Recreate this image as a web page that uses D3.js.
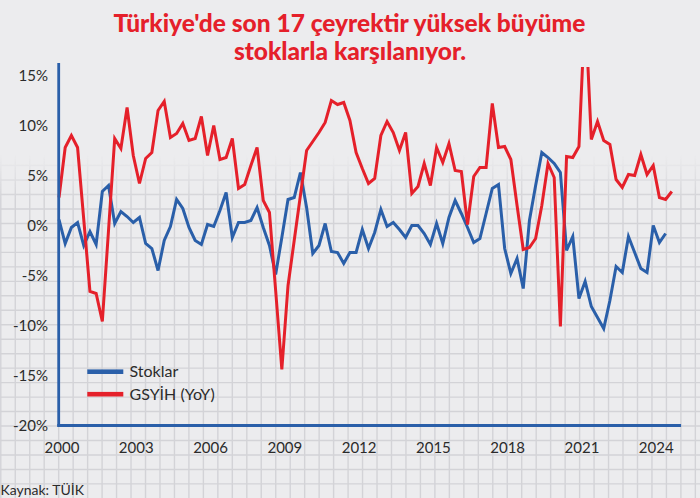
<!DOCTYPE html>
<html><head><meta charset="utf-8">
<script src="https://cdn.jsdelivr.net/npm/d3@7"></script>
<style>html,body{margin:0;padding:0;background:#ececee;}svg{display:block}</style>
</head><body>
<svg id="c" width="700" height="498"></svg>
<script>
// ---- data (quarterly, 2000Q1 onwards) ----
const startYear = 2000;
const gdpYoY = [2.8,7.8,9.0,7.8, 0.6,-6.6,-6.8,-9.6, -0.5,8.7,7.7,11.8, 7.0,4.2,6.7,7.3,
  11.5,12.4,8.8,9.2, 10.2,8.5,8.7,10.9, 7.0,10.0,6.6,6.8, 8.7,3.7,4.1,6.0,
  7.8,2.5,1.3,-6.5, -14.4,-6.0,-1.5,3.0, 7.5,8.4,9.3,10.3, 12.5,12.1,12.3,10.5,
  7.3,5.7,4.2,4.7, 9.0,10.4,9.3,7.5, 9.3,3.2,3.9,6.2, 4.0,7.8,6.3,8.2,
  5.5,5.4,0.1,4.9, 5.8,5.8,12.2,7.8, 7.9,6.6,2.0,-2.4, -2.2,-1.3,2.0,6.2,
  4.8,-10.1,6.9,6.8, 7.9,21.9,8.6,10.4, 8.5,8.1,4.6,3.8, 5.1,5.0,7.1,5.1,
  6.0,2.8,2.6,3.4];
const stocks = [0.6,-1.8,-0.2,0.3, -2.0,-0.6,-1.9,3.4, 4.0,0.2,1.4,0.9, 0.3,0.8,-1.8,-2.3,
  -4.5,-1.5,-0.1,2.6, 1.7,-0.2,-1.5,-1.9, 0.1,-0.1,1.5,3.3, -1.2,0.3,0.3,0.5,
  1.8,-0.2,-2.0,-4.9, -1.2,2.6,2.8,5.3, 1.8,-2.8,-2.0,0.2, -2.6,-2.7,-3.8,-2.7,
  -2.7,-0.4,-2.3,-0.7, 1.6,-0.1,0.3,-0.4, -1.2,0.0,0.0,-0.8, -1.9,0.2,-1.8,0.8,
  2.5,1.2,-0.2,-1.7, -1.3,1.2,3.7,4.1, -2.3,-4.8,-3.3,-6.3, 0.5,4.0,7.3,6.8,
  6.2,5.3,-2.5,-1.1, -7.3,-5.6,-8.1,-9.2, -10.3,-7.5,-4.1,-4.7, -1.1,-2.7,-4.3,-4.7,
  0.0,-1.7,-0.8];
const yTicks = [-20,-15,-10,-5,0,5,10,15];
const xTickYears = [2000,2003,2006,2009,2012,2015,2018,2021,2024];
const seriesNames = ["Stoklar","GSYİH (YoY)"];
const titleLines = ["Türkiye'de son 17 çeyrektir yüksek büyüme","stoklarla karşılanıyor."];
const sourceText = "Kaynak: TÜİK";

// ---- style ----
const W = 700, H = 498;
const BLUE = "#2a5fa9", RED = "#e5202a", BG = "#ececee";
const FONT = "Lato, 'Open Sans', sans-serif";

const svg = d3.select("#c");
const defs = svg.append("defs");
svg.append("rect").attr("width", W).attr("height", H).attr("fill", BG);

// graph-paper background fading out towards the top
const grad = defs.append("linearGradient").attr("id","fade")
  .attr("gradientUnits","userSpaceOnUse").attr("x1",0).attr("y1",155).attr("x2",0).attr("y2",200);
grad.append("stop").attr("offset",0).attr("stop-color","#fff").attr("stop-opacity",0);
grad.append("stop").attr("offset",1).attr("stop-color","#fff").attr("stop-opacity",1);
defs.append("mask").attr("id","gm").append("rect").attr("width",W).attr("height",H).attr("fill","url(#fade)");
const grid = svg.append("g").attr("mask","url(#gm)").attr("stroke","#d3d3d7").attr("stroke-width",1.4);
grid.selectAll(".gv").data(d3.range(0.8, W, 14.47)).join("line")
  .attr("x1",d=>d).attr("x2",d=>d).attr("y1",0).attr("y2",H);
grid.selectAll(".gh").data(d3.range(6.4, H, 14.47)).join("line")
  .attr("y1",d=>d).attr("y2",d=>d).attr("x1",0).attr("x2",W);

// scales
const x = d3.scaleLinear().domain([2000, 2024.75]).range([59, 671.8]);
const y = d3.scaleLinear().domain([-20, 15]).range([425.5, 75.5]);
const tOf = i => startYear + i/4;

// axes labels
const yAxis = svg.append("g").attr("transform","translate(58,0)")
  .call(d3.axisLeft(y).tickValues(yTicks).tickSize(0).tickPadding(10).tickFormat(d=>d+"%"));
yAxis.select(".domain").remove();
yAxis.selectAll("text").attr("font-family",FONT).attr("font-size",15).attr("fill","#2b2b2b");

const xAxis = svg.append("g").attr("transform","translate(0,425.5)")
  .call(d3.axisBottom(x).tickValues(xTickYears).tickSize(0).tickPadding(17).tickFormat(d3.format("d")));
xAxis.select(".domain").remove();
xAxis.selectAll("text").attr("x",2.5).attr("font-family",FONT).attr("font-size",15).attr("fill","#2b2b2b");

// clip
defs.append("clipPath").attr("id","clip").append("rect")
  .attr("x",0).attr("y",67).attr("width",W).attr("height",H-67);

const line = d3.line().x((d,i)=>x(tOf(i))).y(d=>y(d));
const plot = svg.append("g").attr("clip-path","url(#clip)");
plot.append("path").datum(stocks).attr("d",line).attr("fill","none")
  .attr("stroke",BLUE).attr("stroke-width",3).attr("stroke-linejoin","miter");
plot.append("path").datum(gdpYoY).attr("d",line).attr("fill","none")
  .attr("stroke",RED).attr("stroke-width",3).attr("stroke-linejoin","miter");

// axis lines (blue)
svg.append("line").attr("x1",x(2000)-0.3).attr("x2",x(2000)-0.3)
  .attr("y1",y(16.25)).attr("y2",y(-20)+1.3).attr("stroke",BLUE).attr("stroke-width",2.8);
svg.append("line").attr("x1",x(2000)-1.7).attr("x2",x(2025.125))
  .attr("y1",y(-20)).attr("y2",y(-20)).attr("stroke",BLUE).attr("stroke-width",2.8);

// legend
const leg = svg.append("g");
[[seriesNames[0],BLUE,371.7],[seriesNames[1],RED,394.2]].forEach(([name,col,yy])=>{
  leg.append("rect").attr("x",87.3).attr("y",yy-2.3).attr("width",36).attr("height",4.6).attr("fill",col);
  leg.append("text").attr("x",129.5).attr("y",yy).attr("dy","0.35em")
    .attr("font-family",FONT).attr("font-size",16).attr("fill","#2b2b2b").text(name);
});

// title
const t1 = svg.append("text").attr("x",349.5).attr("y",32.3).attr("text-anchor","middle")
  .attr("font-family",FONT).attr("font-weight",900).attr("font-size",23).attr("fill",RED).text(titleLines[0]);
const w1 = t1.node().getComputedTextLength();
const fs = 23 * 472 / w1;
t1.attr("font-size",fs);
svg.append("text").attr("x",350).attr("y",60).attr("text-anchor","middle")
  .attr("font-family",FONT).attr("font-weight",900).attr("font-size",fs).attr("fill",RED).text(titleLines[1]);

// source
svg.append("text").attr("x",0.5).attr("y",494.5).attr("font-family",FONT).attr("font-size",14)
  .attr("fill","#2b2b2b").text(sourceText);
</script>
</body></html>
